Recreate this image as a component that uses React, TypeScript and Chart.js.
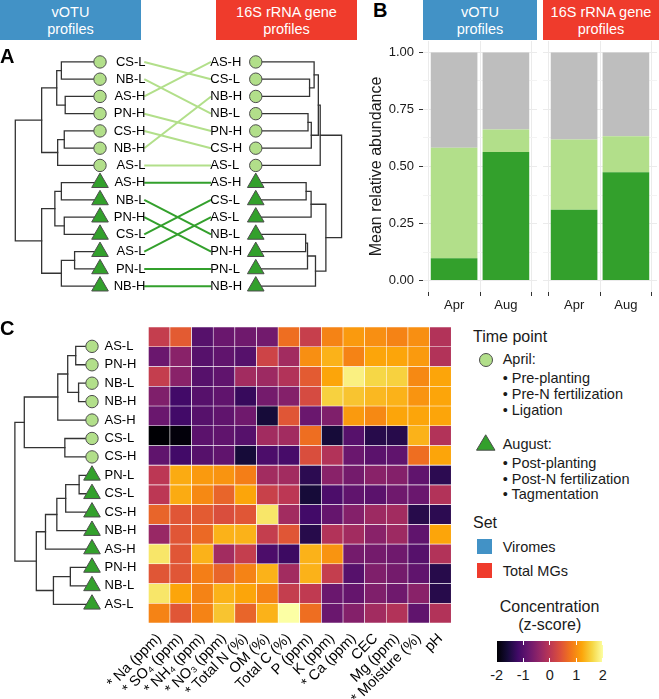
import React, { useEffect, useRef } from 'react';
import { Chart, registerables } from 'chart.js';

Chart.register(...registerables);

const FONT = "'Liberation Sans', Arial, Helvetica, sans-serif";
Chart.defaults.font.family = FONT;
Chart.defaults.font.size = 13;
Chart.defaults.color = '#1a1a1a';

/* ---------------- data: panel A (tanglegram) ---------------- */
const votuTipLabels = ['CS-L', 'NB-L', 'AS-H', 'PN-H', 'CS-H', 'NB-H', 'AS-L', 'AS-H', 'NB-L', 'PN-H', 'CS-L', 'AS-L', 'PN-L', 'NB-H'];
const votuTipMonths = ['Apr', 'Apr', 'Apr', 'Apr', 'Apr', 'Apr', 'Apr', 'Aug', 'Aug', 'Aug', 'Aug', 'Aug', 'Aug', 'Aug'];
const rrnaTipLabels = ['AS-H', 'CS-L', 'NB-H', 'NB-L', 'PN-H', 'CS-H', 'AS-L', 'AS-H', 'CS-L', 'AS-L', 'NB-L', 'PN-H', 'PN-L', 'NB-H'];
const rrnaTipMonths = ['Apr', 'Apr', 'Apr', 'Apr', 'Apr', 'Apr', 'Apr', 'Aug', 'Aug', 'Aug', 'Aug', 'Aug', 'Aug', 'Aug'];

// nested dendrograms: leaf = row index, node = [left, right, merge height]
type Tree = number | [Tree, Tree, number];
const votuTree: Tree = [
  [[[0, 1, 0.456], [2, 3, 0.411], 0.511], [[4, 5, 0.422], 6, 0.5], 0.689],
  [[[7, 8, 0.456], [9, 10, 0.422], 0.533], [[11, 12, 0.3], 13, 0.456], 0.689],
  1.0,
];
const rrnaTree: Tree = [
  [[[0, [1, 2, 0.627], 0.68], [[3, 4, 0.609], 5, 0.647], 0.729], 6, 0.751],
  [[[7, 8, 0.587], 9, 0.645], [[[10, 11, 0.581], 12, 0.603], 13, 0.696], 0.817],
  1.0,
];

/* ---------------- data: panel B (stacked bars) ---------------- */
const timeLabels = ['Apr', 'Aug'];
const votuAugShare = [0.098, 0.564];
const votuAprShare = [0.484, 0.098];
const votuOtherShare = [0.418, 0.338];
const rrnaAugShare = [0.31, 0.475];
const rrnaAprShare = [0.308, 0.158];
const rrnaOtherShare = [0.382, 0.367];

/* ---------------- data: panel C (heatmap) ---------------- */
const soilVars = ['* Na (ppm)', '* SO\u2084 (ppm)', '* NH\u2084 (ppm)', '* NO\u2083 (ppm)', '* Total N (%)', 'OM (%)', 'Total C (%)', 'P (ppm)', 'K (ppm)', '* Ca (ppm)', 'CEC', 'Mg (ppm)', '* Moisture (%)', 'pH'];
const sampleLabels = ['AS-L', 'PN-H', 'NB-L', 'NB-H', 'AS-H', 'CS-L', 'CS-H', 'PN-L', 'CS-L', 'CS-H', 'NB-H', 'AS-H', 'PN-H', 'NB-L', 'AS-L'];
const sampleMonths = ['Apr', 'Apr', 'Apr', 'Apr', 'Apr', 'Apr', 'Apr', 'Aug', 'Aug', 'Aug', 'Aug', 'Aug', 'Aug', 'Aug', 'Aug'];
const soilTree: Tree = [
  [[[[0, 1, 0.211], [2, 3, 0.174], 0.315], 4, 0.444], [5, 6, 0.352], 0.878],
  [[[[[7, 8, 0.167], 9, 0.341], 10, 0.456], 11, 0.603], [[12, 13, 0.281], 14, 0.5], 0.722],
  1.0,
];
const zScores = [
  [0.1, 0.5, -1.0, -0.8, -0.75, -0.72, 0.7, 0.12, 0.9, 1.1, 1.0, 0.9, 1.0, -0.1],
  [-0.8, -0.5, -1.0, -0.9, -1.0, 0.2, -0.25, 1.0, 1.3, 0.9, 1.2, 1.2, 1.1, -0.1],
  [0.1, -0.5, -1.0, -0.9, -0.25, -0.3, -0.1, 0.5, 1.2, 1.85, 1.6, 1.55, 0.95, 1.2],
  [-0.6, -1.2, -1.0, -0.9, -1.3, -0.7, -0.55, 0.3, 1.55, 1.45, 1.35, 1.3, 1.05, 1.2],
  [-0.8, -1.2, -1.0, -0.9, -0.75, -1.6, 0.45, -0.8, -0.6, 1.1, 0.95, 1.2, 1.2, 1.2],
  [-2.0, -1.95, -0.95, -0.9, -1.0, -0.25, -0.25, 0.7, -1.6, -1.0, -1.45, -1.45, 1.3, -0.1],
  [-0.9, -1.2, -1.0, -0.9, -1.6, -1.1, -1.15, 0.35, -0.1, -0.8, -0.95, -0.9, 0.7, 1.2],
  [0.0, 1.25, 1.1, 1.05, 0.85, -0.25, -0.25, -1.4, -0.5, -0.7, -0.5, -0.55, -0.9, -1.4],
  [0.0, 1.25, 0.95, 0.6, 1.2, 0.15, 0.0, -1.6, -1.1, -0.9, -0.95, -0.75, -0.8, -0.1],
  [0.6, 0.45, 0.5, 0.35, 0.45, 1.75, -0.25, -1.2, -0.85, -0.55, -0.3, -0.25, -1.45, -1.4],
  [-0.35, 0.45, 0.65, 1.3, 1.3, 0.1, 0.45, -1.45, -0.1, -0.25, -0.5, -0.3, -0.9, 1.2],
  [1.75, 0.45, 1.3, -0.25, 0.1, -1.1, -1.25, 1.3, 1.05, -0.7, -0.7, -0.75, -1.0, -0.1],
  [0.45, 0.45, 0.85, 0.6, 0.9, 1.3, -0.25, 1.3, 0.1, -1.0, -0.6, -0.7, -0.9, -1.45],
  [1.75, 1.2, 0.9, 1.3, 1.2, 0.9, 0.1, 0.05, -0.8, -0.85, -0.6, -0.75, -0.5, -1.45],
  [0.9, 0.45, 0.9, 1.45, 0.6, 1.3, 2.0, 0.7, -0.8, -0.55, -0.25, -0.1, -0.9, -0.1],
];
const zTicks = [-2, -1, 0, 1, 2];

/* ---------------- legend text ---------------- */
const aprilNotes = ['Pre-planting', 'Pre-N fertilization', 'Ligation'];
const augustNotes = ['Post-planting', 'Post-N fertilization', 'Tagmentation'];
const setNames = ['Viromes', 'Total MGs'];

/* ---------------- styles ---------------- */
const APR_GREEN = '#b2df8a';
const AUG_GREEN = '#33a02c';
const OTHER_GREY = '#bebebe';
const VIROME_BLUE = '#4292c6';
const TOTAL_RED = '#ef3b2c';
const TREE_COLOR = '#333333';
const MARKER_EDGE = '#4d4d4d';
const INFERNO = ['#000004', '#160b39', '#420a68', '#6a176e', '#932667', '#bc3754', '#dd513a', '#f37819', '#fca50a', '#f6d746', '#fcffa4'];
const HEAT_LABEL_SIZE = 14.5;

// layout (page px)
const A_TOP = 40, A_W = 360, A_H = 270;
const A_ROW0 = 12.3, A_PITCH = 18.72;
const A_LEFT_TIP = 95, A_LEFT_SPAN = 90;
const A_RIGHT_TIP = 260.5, A_RIGHT_SPAN = 91.2;
const A_LINK_X0 = 142, A_LINK_X1 = 213;
const C_TOP = 320, C_TREE_W = 148, C_TREE_H = 320;
const C_ROW_TOP = 7, C_PITCH = 19.733;
const C_TIP = 95, C_SPAN = 90;

function hexRgb(h: string) {
  const n = parseInt(h.slice(1), 16);
  return [(n >> 16) & 255, (n >> 8) & 255, n & 255];
}
function inferno(t: number) {
  const c = Math.max(0, Math.min(1, t)) * (INFERNO.length - 1);
  const i = Math.min(INFERNO.length - 2, Math.floor(c));
  const f = c - i;
  const a = hexRgb(INFERNO[i]);
  const b = hexRgb(INFERNO[i + 1]);
  const m = a.map((v, k) => Math.round(v + (b[k] - v) * f));
  return `rgb(${m[0]},${m[1]},${m[2]})`;
}
const zColor = (z: number) => inferno((z - zTicks[0]) / (zTicks[zTicks.length - 1] - zTicks[0]));

function fwdRange(anchorPx: number, ppu: number, len: number) {
  const min = -anchorPx / ppu;
  return { min, max: min + len / ppu };
}
function revRange(anchorPx: number, ppu: number, len: number) {
  const max = anchorPx / ppu;
  return { min: max - len / ppu, max };
}

const baseOptions: any = {
  responsive: false,
  animation: false,
  events: [],
  layout: { padding: 0 },
  plugins: { legend: { display: false }, tooltip: { enabled: false }, title: { display: false } },
};

function dendroDatasets(tree: Tree, xAxisID: string, yOffset: number) {
  const out: any[] = [];
  const walk = (n: Tree): { y: number; h: number } => {
    if (typeof n === 'number') return { y: n + yOffset, h: 0 };
    const a = walk(n[0]);
    const b = walk(n[1]);
    out.push({
      type: 'scatter', xAxisID, yAxisID: 'y', showLine: true, pointRadius: 0, borderWidth: 1.3,
      borderColor: TREE_COLOR, borderJoinStyle: 'miter', borderCapStyle: 'square',
      data: [{ x: a.h, y: a.y }, { x: n[2], y: a.y }, { x: n[2], y: b.y }, { x: b.h, y: b.y }],
    });
    return { y: (a.y + b.y) / 2, h: n[2] };
  };
  walk(tree);
  return out;
}

function markerDatasets(months: string[], xAxisID: string, yOffset: number) {
  return ['Apr', 'Aug'].map((m) => ({
    type: 'scatter', xAxisID, yAxisID: 'y', showLine: false,
    data: months.map((mm, i) => (mm === m ? { x: 0, y: i + yOffset } : null)).filter(Boolean),
    pointStyle: m === 'Apr' ? 'circle' : 'triangle',
    pointRadius: m === 'Apr' ? 6.2 : 9.6,
    backgroundColor: m === 'Apr' ? APR_GREEN : AUG_GREEN,
    borderColor: MARKER_EDGE,
    borderWidth: 1,
  }));
}

function tipLabelPlugin(id: string, groups: Array<{ labels: string[]; axis: string; dx: number; align: CanvasTextAlign; yOffset: number }>) {
  return {
    id,
    afterDatasetsDraw(chart: any) {
      const { ctx } = chart;
      const ys = chart.scales.y;
      ctx.save();
      ctx.font = `13px ${FONT}`;
      ctx.fillStyle = '#000000';
      ctx.textBaseline = 'middle';
      groups.forEach((g) => {
        const x0 = chart.scales[g.axis].getPixelForValue(0) + g.dx;
        ctx.textAlign = g.align;
        g.labels.forEach((t, i) => ctx.fillText(t, x0, ys.getPixelForValue(i + g.yOffset)));
      });
      ctx.restore();
    },
  };
}

function tanglegramConfig(): any {
  const links = votuTipLabels.map((lab, i) => {
    const j = rrnaTipLabels.findIndex((l, k) => l === lab && rrnaTipMonths[k] === votuTipMonths[i]);
    return {
      type: 'scatter', xAxisID: 'xp', yAxisID: 'y', showLine: true, pointRadius: 0, borderWidth: 2,
      borderColor: votuTipMonths[i] === 'Apr' ? APR_GREEN : AUG_GREEN,
      data: [{ x: A_LINK_X0, y: i }, { x: A_LINK_X1, y: j }],
    };
  });
  return {
    type: 'scatter',
    data: {
      datasets: [
        ...markerDatasets(votuTipMonths, 'xl', 0),
        ...markerDatasets(rrnaTipMonths, 'xr', 0),
        ...links,
        ...dendroDatasets(votuTree, 'xl', 0),
        ...dendroDatasets(rrnaTree, 'xr', 0),
      ],
    },
    options: {
      ...baseOptions,
      scales: {
        y: { type: 'linear', axis: 'y', reverse: true, display: false, ...fwdRange(A_ROW0, A_PITCH, A_H) },
        xl: { type: 'linear', axis: 'x', position: 'bottom', reverse: true, display: false, ...revRange(A_LEFT_TIP, A_LEFT_SPAN, A_W) },
        xr: { type: 'linear', axis: 'x', position: 'bottom', display: false, ...fwdRange(A_RIGHT_TIP, A_RIGHT_SPAN, A_W) },
        xp: { type: 'linear', axis: 'x', position: 'bottom', display: false, min: 0, max: A_W },
      },
    },
    plugins: [
      tipLabelPlugin('aLabels', [
        { labels: votuTipLabels, axis: 'xl', dx: 45.5, align: 'right', yOffset: 0 },
        { labels: rrnaTipLabels, axis: 'xr', dx: -45.5, align: 'left', yOffset: 0 },
      ]),
    ],
  };
}

function soilTreeConfig(): any {
  return {
    type: 'scatter',
    data: {
      datasets: [...markerDatasets(sampleMonths, 'xt', 0.5), ...dendroDatasets(soilTree, 'xt', 0.5)],
    },
    options: {
      ...baseOptions,
      scales: {
        y: { type: 'linear', axis: 'y', reverse: true, display: false, ...fwdRange(C_ROW_TOP, C_PITCH, C_TREE_H) },
        xt: { type: 'linear', axis: 'x', position: 'bottom', reverse: true, display: false, ...revRange(C_TIP, C_SPAN, C_TREE_W) },
      },
    },
    plugins: [tipLabelPlugin('cLabels', [{ labels: sampleLabels, axis: 'xt', dx: 12.5, align: 'left', yOffset: 0.5 }])],
  };
}

function shareChartConfig(aug: number[], apr: number[], other: number[], withAxis: boolean): any {
  const pts = (arr: number[]) => arr.map((v, i) => ({ x: i + 1, y: v }));
  const isMajor = (v: number) => Math.abs(v * 4 - Math.round(v * 4)) < 1e-9;
  return {
    type: 'bar',
    data: {
      datasets: [
        { label: 'August', data: pts(aug), backgroundColor: AUG_GREEN },
        { label: 'April', data: pts(apr), backgroundColor: APR_GREEN },
        { label: 'Other', data: pts(other), backgroundColor: OTHER_GREY },
      ],
    },
    options: {
      ...baseOptions,
      datasets: { bar: { barPercentage: 0.9, categoryPercentage: 1, borderWidth: 0 } },
      scales: {
        x: {
          type: 'linear', min: 0.4, max: 2.6, stacked: true, offset: false,
          afterBuildTicks: (s: any) => { s.ticks = timeLabels.map((_, i) => ({ value: i + 1 })); },
          afterFit: (s: any) => { s.height = 29; s.paddingLeft = 0; s.paddingRight = 0; },
          ticks: { callback: (v: number) => timeLabels[Math.round(v) - 1] ?? '', font: { size: 13 }, color: '#1a1a1a', padding: 2, maxRotation: 0, autoSkip: false },
          grid: { color: '#ebebeb', tickColor: '#333333', tickLength: 4 },
          border: { display: false },
        },
        y: {
          type: 'linear', min: -0.05, max: 1.05, stacked: true,
          afterBuildTicks: (s: any) => {
            const t: any[] = [];
            for (let k = 0; k <= 8; k++) t.push({ value: k / 8 });
            s.ticks = t;
          },
          afterFit: (s: any) => { s.width = withAxis ? 63 : 0; s.paddingTop = 0; s.paddingBottom = 0; },
          ticks: { display: withAxis, callback: (v: number) => (isMajor(v) ? v.toFixed(2) : ''), font: { size: 13 }, color: '#1a1a1a', padding: 5 },
          grid: {
            color: (c: any) => (c.tick && isMajor(c.tick.value) ? '#ebebeb' : '#f3f3f3'),
            tickColor: (c: any) => (c.tick && isMajor(c.tick.value) ? '#333333' : 'rgba(0,0,0,0)'),
            tickLength: 4,
            drawTicks: withAxis,
          },
          border: { display: false },
          title: { display: withAxis, text: 'Mean relative abundance', font: { size: 16 }, color: '#1a1a1a', padding: { top: 7, bottom: 0 } },
        },
      },
    },
  };
}

function heatmapConfig(): any {
  return {
    type: 'bar',
    data: {
      labels: soilVars,
      datasets: sampleLabels.map((lab, r) => ({
        label: `${lab} ${sampleMonths[r]}`,
        data: soilVars.map(() => [r, r + 1]),
        backgroundColor: zScores[r].map(zColor),
        borderColor: '#ffffff',
        borderWidth: 0.6,
        borderSkipped: false,
        grouped: false,
        barPercentage: 1,
        categoryPercentage: 1,
      })),
    },
    options: {
      ...baseOptions,
      layout: { padding: { left: 88.3, right: 8, top: 7, bottom: 0 } },
      scales: {
        x: {
          type: 'category', offset: true,
          grid: { display: false, drawTicks: false },
          border: { display: false },
          ticks: { autoSkip: false, minRotation: 45, maxRotation: 45, padding: 7, font: { size: HEAT_LABEL_SIZE }, color: '#000000' },
          afterFit: (s: any) => { s.height = 76; },
        },
        y: { type: 'linear', reverse: true, min: 0, max: sampleLabels.length, display: false },
      },
    },
  };
}

function Txt(props: { x: number; y: number; size: number; children: any; align?: 'left' | 'center'; color?: string; weight?: number }) {
  const { x, y, size, children, align = 'left', color = '#1a1a1a', weight = 400 } = props;
  const lh = Math.round(size * 1.25);
  const style: React.CSSProperties = {
    position: 'absolute', left: x, top: y - lh / 2, fontSize: size, lineHeight: `${lh}px`,
    whiteSpace: 'nowrap', color, fontWeight: weight,
  };
  if (align === 'center') style.transform = 'translateX(-50%)';
  return <div style={style}>{children}</div>;
}

function Strip(props: { x: number; w: number; color: string; lines: string[] }) {
  const { x, w, color, lines } = props;
  return (
    <>
      <div style={{ position: 'absolute', left: x, top: 0, width: w, height: 40, background: color }} />
      <Txt x={x + w / 2} y={12} size={14.5} align="center" color="#ffffff">{lines[0]}</Txt>
      <Txt x={x + w / 2} y={29.3} size={14.5} align="center" color="#ffffff">{lines[1]}</Txt>
    </>
  );
}

export default function App() {
  const aRef = useRef<HTMLCanvasElement>(null);
  const b1Ref = useRef<HTMLCanvasElement>(null);
  const b2Ref = useRef<HTMLCanvasElement>(null);
  const ctRef = useRef<HTMLCanvasElement>(null);
  const chRef = useRef<HTMLCanvasElement>(null);

  useEffect(() => {
    document.body.style.margin = '0';
    const charts = [
      new Chart(aRef.current as HTMLCanvasElement, tanglegramConfig()),
      new Chart(b1Ref.current as HTMLCanvasElement, shareChartConfig(votuAugShare, votuAprShare, votuOtherShare, true)),
      new Chart(b2Ref.current as HTMLCanvasElement, shareChartConfig(rrnaAugShare, rrnaAprShare, rrnaOtherShare, false)),
      new Chart(ctRef.current as HTMLCanvasElement, soilTreeConfig()),
      new Chart(chRef.current as HTMLCanvasElement, heatmapConfig()),
    ];
    return () => charts.forEach((c) => c.destroy());
  }, []);

  const cbLeft = 496.7, cbW = 106, cbTop = 640.7, cbH = 21;
  const cbX = (z: number) => cbLeft + ((z - zTicks[0]) / (zTicks[zTicks.length - 1] - zTicks[0])) * cbW;
  const gradient = `linear-gradient(to right, ${INFERNO.map((c, i) => `${c} ${(i / (INFERNO.length - 1)) * 100}%`).join(', ')})`;

  return (
    <div style={{ position: 'absolute', left: 0, top: 0, width: 659, height: 699, background: '#ffffff', overflow: 'hidden', fontFamily: FONT, color: '#1a1a1a' }}>
      <canvas ref={aRef} width={A_W} height={A_H} style={{ position: 'absolute', left: 0, top: A_TOP, width: A_W, height: A_H }} />
      <canvas ref={b1Ref} width={177} height={280} style={{ position: 'absolute', left: 360, top: 41, width: 177, height: 280 }} />
      <canvas ref={b2Ref} width={114} height={280} style={{ position: 'absolute', left: 543, top: 41, width: 114, height: 280 }} />
      <canvas ref={ctRef} width={C_TREE_W} height={C_TREE_H} style={{ position: 'absolute', left: 0, top: C_TOP, width: C_TREE_W, height: C_TREE_H }} />
      <canvas ref={chRef} width={400} height={379} style={{ position: 'absolute', left: 60, top: C_TOP, width: 400, height: 379 }} />

      <Strip x={0} w={141} color={VIROME_BLUE} lines={['vOTU', 'profiles']} />
      <Strip x={216} w={141} color={TOTAL_RED} lines={['16S rRNA gene', 'profiles']} />
      <Strip x={423} w={114} color={VIROME_BLUE} lines={['vOTU', 'profiles']} />
      <Strip x={543} w={116} color={TOTAL_RED} lines={['16S rRNA gene', 'profiles']} />

      <Txt x={0} y={56.5} size={20} weight={700} color="#000">A</Txt>
      <Txt x={373} y={10.8} size={20} weight={700} color="#000">B</Txt>
      <Txt x={0} y={328.4} size={20} weight={700} color="#000">C</Txt>

      {/* legend: time point */}
      <Txt x={473} y={337} size={16}>Time point</Txt>
      <div style={{ position: 'absolute', left: 478.8, top: 352.5, width: 14, height: 14, boxSizing: 'border-box', borderRadius: '50%', background: APR_GREEN, border: `1px solid ${MARKER_EDGE}` }} />
      <Txt x={502.7} y={359.2} size={14.5}>April:</Txt>
      {aprilNotes.map((t, i) => (
        <Txt key={t} x={502.7} y={378.2 + i * 16} size={14.5}>{'\u2022 ' + t}</Txt>
      ))}
      <svg style={{ position: 'absolute', left: 476.3, top: 434.3 }} width={20} height={17}>
        <polygon points="9.7,0.8 19,16.2 0.5,16.2" fill={AUG_GREEN} stroke={MARKER_EDGE} strokeWidth={1} />
      </svg>
      <Txt x={502.7} y={444} size={14.5}>August:</Txt>
      {augustNotes.map((t, i) => (
        <Txt key={t} x={502.7} y={462.8 + i * 15.8} size={14.5}>{'\u2022 ' + t}</Txt>
      ))}

      {/* legend: set */}
      <Txt x={473} y={522.7} size={16}>Set</Txt>
      {setNames.map((t, i) => (
        <React.Fragment key={t}>
          <div style={{ position: 'absolute', left: 476.7, top: 539 + i * 24.3, width: 15, height: 15, background: i === 0 ? VIROME_BLUE : TOTAL_RED }} />
          <Txt x={502.7} y={547 + i * 23.7} size={14.5}>{t}</Txt>
        </React.Fragment>
      ))}

      {/* legend: colour bar */}
      <Txt x={549.5} y={607} size={16} align="center">Concentration</Txt>
      <Txt x={549.7} y={624.5} size={16} align="center">(z-score)</Txt>
      <div style={{ position: 'absolute', left: cbLeft, top: cbTop, width: cbW, height: cbH, background: gradient }} />
      {zTicks.map((z) => (
        <React.Fragment key={z}>
          <div style={{ position: 'absolute', left: cbX(z) - 0.5, top: cbTop, width: 1, height: 4, background: '#ffffff' }} />
          <div style={{ position: 'absolute', left: cbX(z) - 0.5, top: cbTop + cbH - 4, width: 1, height: 4, background: '#ffffff' }} />
          <Txt x={cbX(z)} y={675} size={14.5} align="center">{String(z)}</Txt>
        </React.Fragment>
      ))}
    </div>
  );
}
